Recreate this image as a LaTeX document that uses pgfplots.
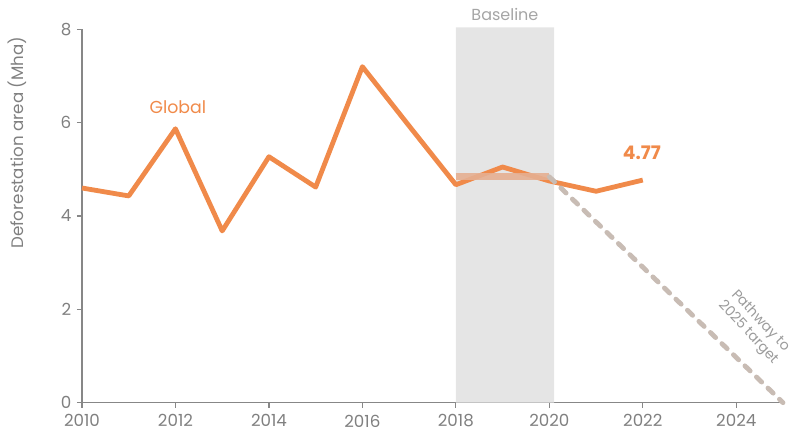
\documentclass[border=0pt]{standalone}
\usepackage{fontspec}
\setmainfont{Poppins}
\usepackage{pgfplots}
\pgfplotsset{compat=1.18}
\definecolor{orangeL}{RGB}{240,138,74}
\definecolor{baseL}{RGB}{230,175,145}
\definecolor{dashC}{RGB}{200,188,180}
\definecolor{bandC}{RGB}{229,229,229}
\definecolor{txtC}{RGB}{128,128,128}
\definecolor{axC}{RGB}{135,135,135}
\begin{document}
\begin{tikzpicture}
\begin{axis}[
  at={(0,0)}, anchor=south west,
  scale only axis, width=525.75pt, height=280pt,
  xmin=2010, xmax=2025, ymin=0, ymax=8,
  clip=false,
  axis lines=left,
  axis line style={draw=axC, line width=0.9pt, -},
  xtick={2010,2012,...,2024}, ytick={0,2,4,6,8},
  major tick length=0pt,
  unbounded coords=jump,
  /pgf/number format/1000 sep={},
  /pgf/number format/assume math mode=true,
  tick label style={font=\fontsize{12.5}{14}\selectfont, text=txtC},
  xticklabel style={yshift=-5.5pt},
  yticklabel style={xshift=-4.5pt},
]
\addplot[fill=bandC, draw=none] coordinates {(2018,0) (2018,8.04) (2020.1,8.04) (2020.1,0)} \closedcycle;
% tick marks
\addplot[axC, line width=0.9pt, ycomb, forget plot] coordinates {
(2010,-0.11) (2012,-0.11) (2014,-0.11) (2016,-0.11) (2018,-0.11) (2020,-0.11) (2022,-0.11) (2024,-0.11)};
\addplot[axC, line width=0.9pt, forget plot] coordinates {
(2009.89,0) (2010,0) (nan,nan) (2009.89,2) (2010,2) (nan,nan) (2009.89,4) (2010,4) (nan,nan)
(2009.89,6) (2010,6) (nan,nan) (2009.89,8) (2010,8)};
\addplot[orangeL, line width=3.6pt, line join=round] coordinates {
(2010,4.60) (2011,4.43) (2012,5.87) (2013,3.68) (2014,5.27) (2015,4.62)
(2016,7.20) (2017,5.93) (2018,4.67) (2019,5.05) (2020,4.75) (2021,4.53) (2022,4.77)};
\addplot[baseL, opacity=0.9, line width=5pt] coordinates {(2018,4.84) (2020,4.84)};
\addplot[dashC, line width=3.6pt, line cap=round, dash pattern=on 5.5pt off 6.5pt] coordinates {(2020,4.84) (2025,0)};
\node[text=orangeL, font=\fontsize{13}{15}\selectfont] at (axis cs:2012.05,6.33) {Global};
\node[text=orangeL, font=\fontsize{14}{16}\selectfont\bfseries] at (axis cs:2021.98,5.35) {4.77};
\node[text={rgb,255:red,165;green,165;blue,165}, font=\fontsize{12}{14}\selectfont] at (axis cs:2019.05,8.32) {Baseline};
\node[text={rgb,255:red,155;green,155;blue,155}, font=\fontsize{10.5}{12.5}\selectfont, rotate=-47, align=center] at (axis cs:2024.38,1.62) {Pathway to\\2025 target};
\node[text=txtC, font=\fontsize{12.5}{14}\selectfont, rotate=90] at ([xshift=-48.5pt]axis cs:2010,5.57) {Deforestation area (Mha)};
\end{axis}
\pgfresetboundingbox
\path[use as bounding box] (-61.5pt,-27.2pt) rectangle (535.5pt,302pt);
\end{tikzpicture}
\end{document}
